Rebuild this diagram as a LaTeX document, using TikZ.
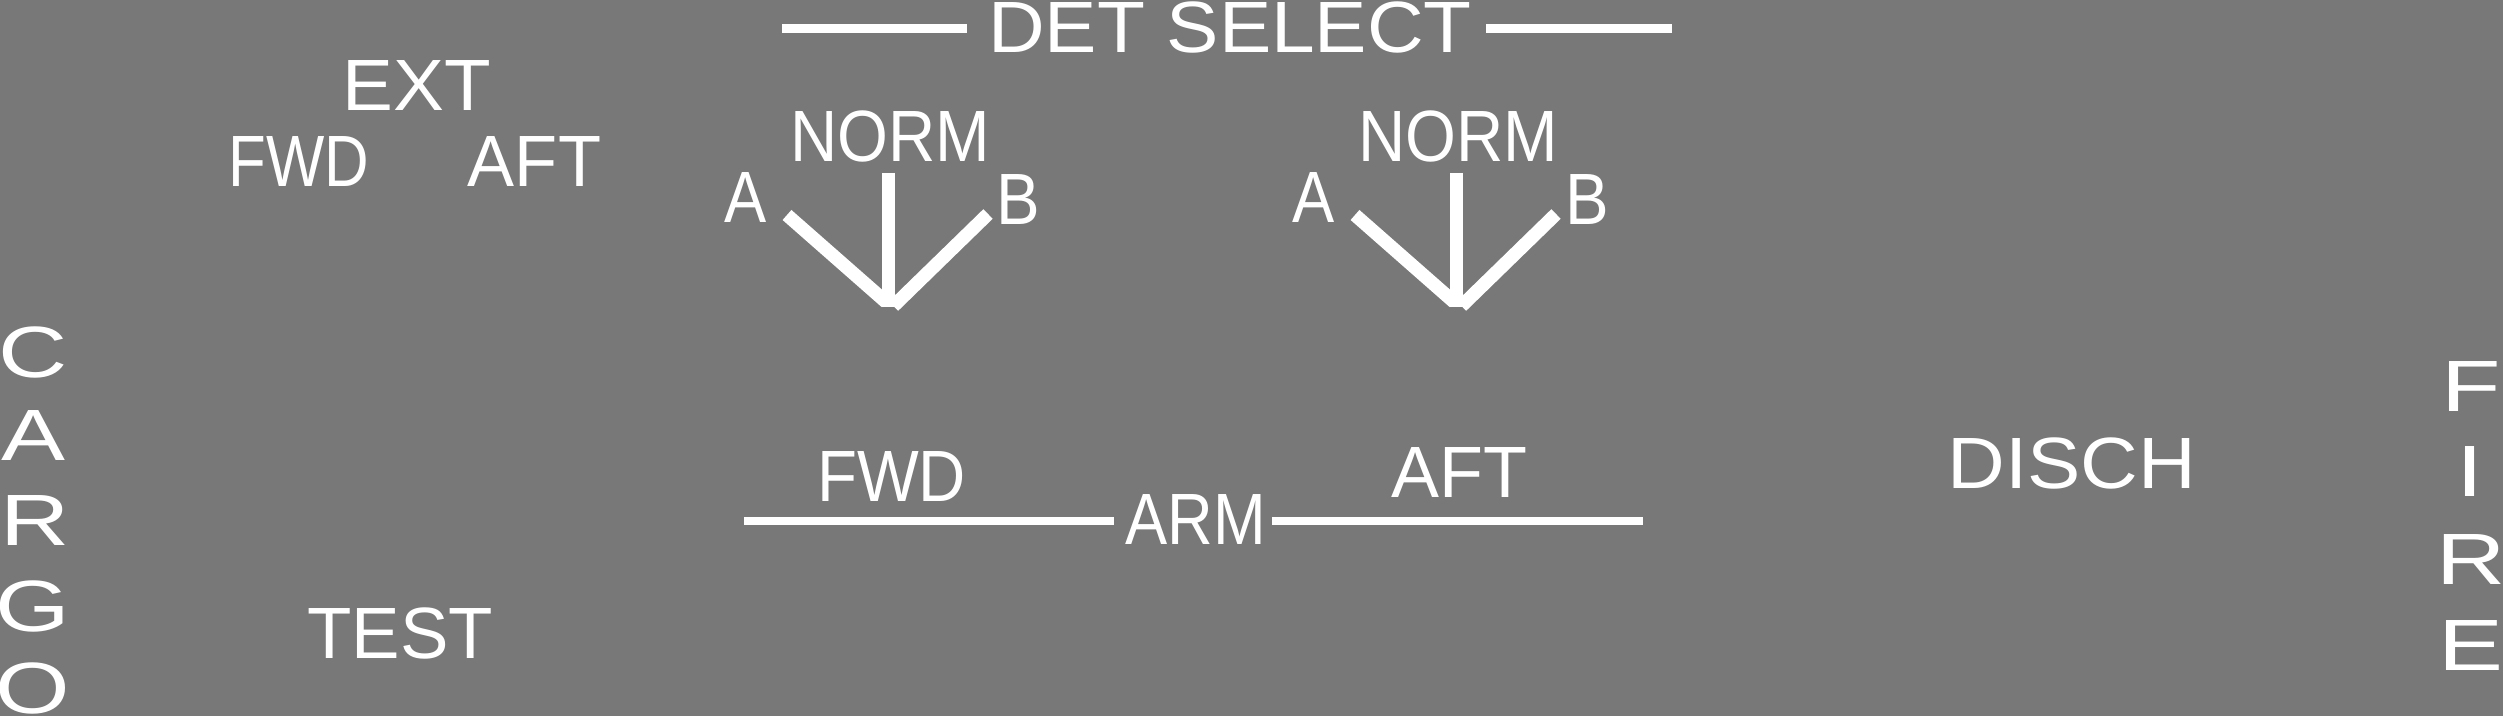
\documentclass[tikz,border=0pt]{standalone}
\usepackage{fontspec}
\setmainfont{Liberation Sans}
\usepackage{graphicx}
\definecolor{panel}{RGB}{120,120,120}
\newcommand{\hs}[2]{\scalebox{#1}[1]{#2}}
\begin{document}
\begin{tikzpicture}[x=0.01cm,y=-0.01cm,
  lbl/.style={anchor=base,inner sep=0pt,outer sep=0pt,text=white,
    font=\fontsize{20.66pt}{24pt}\selectfont},
  rule/.style={draw=white,line width=2.5pt,line cap=butt},
  fork/.style={draw=white,line width=3.8pt,line cap=butt},
  selector/.pic={
    \coordinate (-top) at (0,0);
    \coordinate (-bot) at (0,134);
    \coordinate (-a1) at (-101.5,42);
    \coordinate (-a2) at (-2.5,129);
    \coordinate (-b1) at (99.5,41);
    \coordinate (-b2) at (5,133);
    \draw[fork] (-a1) -- (-a2);
    \draw[fork] (-b1) -- (-b2);
    \draw[fork] (-top) -- (-bot);
  }]
\fill[panel] (0,0) rectangle (2503,716);
\useasboundingbox (0,0) rectangle (2503,716);

% top-left
\node[lbl] (ext) at (416.5,111) {\hs{1.05}{EXT}};
\node[lbl] (extfwd) at (299,187) {\hs{0.85}{FWD}};
\node[lbl] (extaft) at (534.5,187) {\hs{0.97}{AFT}};
\node[lbl] (test) at (400,659) {\hs{1.0}{TEST}};

% CARGO vertical
\node[lbl] (c1) at (33,378) {\hs{1.32}{C}};
\node[lbl] (c2) at (33,461) {\hs{1.32}{A}};
\node[lbl] (c3) at (35,546) {\hs{1.32}{R}};
\node[lbl] (c4) at (33,632) {\hs{1.32}{G}};
\node[lbl] (c5) at (33,714) {\hs{1.32}{O}};

% FIRE vertical
\node[lbl] (f1) at (2471,412) {\hs{1.34}{F}};
\node[lbl] (f2) at (2469.5,497) {\hs{1.34}{I}};
\node[lbl] (f3) at (2471,585) {\hs{1.32}{R}};
\node[lbl] (f4) at (2471,671) {\hs{1.34}{E}};

% DISCH
\node[lbl] (disch) at (2072,489) {\hs{1.1}{DISCH}};

% DET SELECT
\node[lbl] (det) at (1230,53) {\hs{1.08}{DET SELECT}};
\coordinate (detL1) at (782,28.5);
\coordinate (detL2) at (967,28.5);
\coordinate (detR1) at (1486,28.5);
\coordinate (detR2) at (1672,28.5);
\draw[rule] (detL1) -- (detL2);
\draw[rule] (detR1) -- (detR2);

% selectors
\node[lbl] (norm1) at (890.5,162) {\hs{0.9}{NORM}};
\node[lbl] (a1) at (746,223) {\hs{0.87}{A}};
\node[lbl] (b1) at (1018.5,225) {\hs{0.9}{B}};
\pic (sel1) at (888.5,173) {selector};

\node[lbl] (norm2) at (1458.5,162) {\hs{0.9}{NORM}};
\node[lbl] (a2) at (1314,223) {\hs{0.87}{A}};
\node[lbl] (b2) at (1587,225) {\hs{0.9}{B}};
\pic (sel2) at (1456.5,173) {selector};

% ARM
\node[lbl] (armfwd) at (891.5,502) {\hs{0.9}{FWD}};
\node[lbl] (arm) at (1195.5,545) {\hs{0.87}{ARM}};
\node[lbl] (armaft) at (1459,498) {\hs{0.99}{AFT}};
\coordinate (armL1) at (744,521);
\coordinate (armL2) at (1114,521);
\coordinate (armR1) at (1272,521);
\coordinate (armR2) at (1643,521);
\draw[rule,line width=2.4pt] (armL1) -- (armL2);
\draw[rule,line width=2.4pt] (armR1) -- (armR2);
\end{tikzpicture}
\end{document}
